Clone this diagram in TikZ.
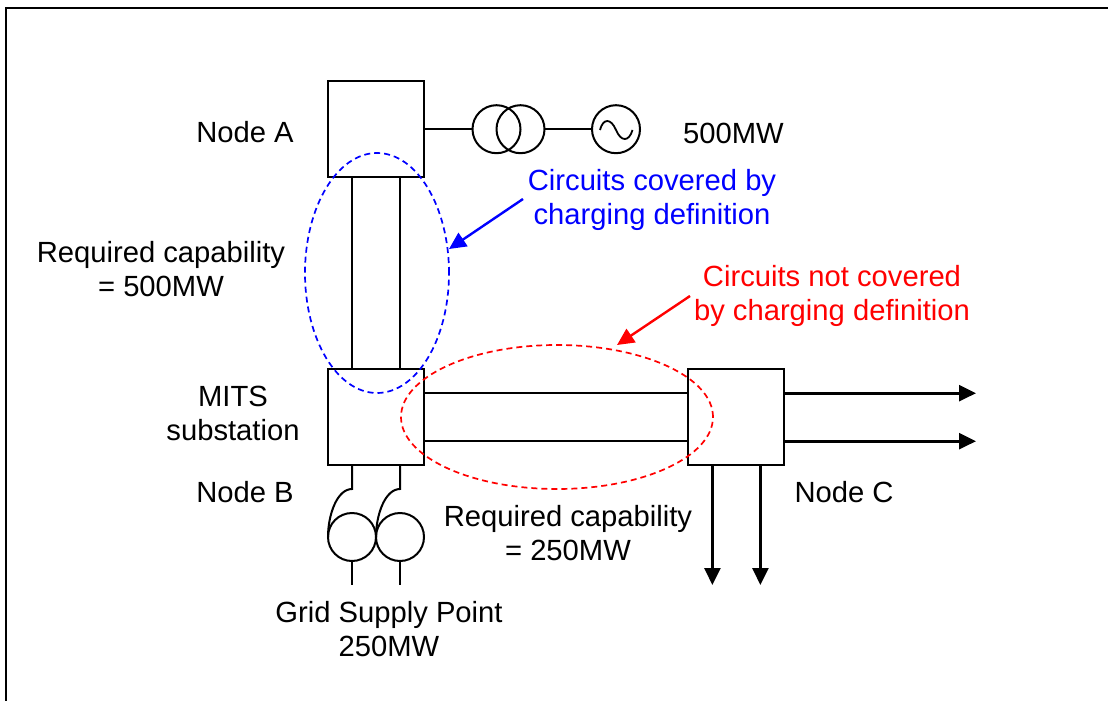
\documentclass[tikz,border=0pt]{standalone}
\usepackage{fontspec}
\setmainfont{Liberation Sans}
\usetikzlibrary{arrows.meta,shapes.geometric}
\definecolor{myblue}{RGB}{0,0,255}
\definecolor{myred}{RGB}{255,0,0}
\tikzset{
  x=1pt,y=-1pt,
  bus/.style={draw,line width=2pt,minimum size=96pt,inner sep=0pt,outer sep=0pt},
  coil/.style={draw,circle,line width=2pt,minimum size=48pt,inner sep=0pt,outer sep=0pt},
  wire/.style={line width=2pt},
  feed/.style={line width=2.6pt,-{Triangle[length=17pt,width=16pt]}},
  lbl/.style={font=\fontsize{29.2}{34}\selectfont,align=center,inner sep=0pt},
  zone/.style={draw,ellipse,line width=1.7pt,dash pattern=on 6pt off 4pt,inner sep=0pt,outer sep=0pt},
  callout/.style={line width=2.4pt,-{Triangle[length=17pt,width=16pt]}},
}
\begin{document}
\begin{tikzpicture}
\useasboundingbox (0,0) rectangle (1108,701);
\draw[line width=2pt] (6,701) -- (6,8.5) -- (1108,8.5);
% buses
\node[bus] (A) at (376,129.2) {};
\node[bus] (B) at (376,417.2) {};
\node[bus] (C) at (736,417.2) {};
% generator side
\node[coil] (T1) at (496.5,129.2) {};
\node[coil] (T2) at (520.5,129.2) {};
\node[coil] (G) at (616,129.2) {};
\draw[wire] (A.east) -- (T1.west);
\draw[wire] (T2.east) -- (G.west);
\draw[line width=1.8pt] (600,130) .. controls (603,118) and (611,118) .. (616,130)
   .. controls (621,142) and (629,142) .. (632.5,130);
% A-B circuits
\coordinate (Aa) at ([xshift=-24pt]A.south);
\coordinate (Ab) at ([xshift=24pt]A.south);
\coordinate (Ba) at ([xshift=-24pt]B.north);
\coordinate (Bb) at ([xshift=24pt]B.north);
\draw[wire] (Aa) -- (Ba);
\draw[wire] (Ab) -- (Bb);
% B-C circuits
\coordinate (Bc) at ([yshift=24pt]B.east);
\coordinate (Bd) at ([yshift=-24pt]B.east);
\coordinate (Cc) at ([yshift=24pt]C.west);
\coordinate (Cd) at ([yshift=-24pt]C.west);
\draw[wire] (Bc) -- (Cc);
\draw[wire] (Bd) -- (Cd);
% outgoing
\coordinate (Ce) at ([yshift=24pt]C.east);
\coordinate (Cf) at ([yshift=-24pt]C.east);
\coordinate (Ex) at (976,393.2);
\coordinate (Fx) at (976,441.2);
\draw[feed] (Ce) -- (Ex);
\draw[feed] (Cf) -- (Fx);
\coordinate (Cg) at ([xshift=-23.6pt]C.south);
\coordinate (Ch) at ([xshift=24.4pt]C.south);
\coordinate (Gx) at (712.4,585);
\coordinate (Hx) at (760.4,585);
\draw[feed] (Cg) -- (Gx);
\draw[feed] (Ch) -- (Hx);
% GSP transformers
\node[coil] (L) at (352,537) {};
\node[coil] (R) at (400,537) {};
\coordinate (Bs) at ([xshift=-24pt]B.south);
\coordinate (Bt) at ([xshift=24pt]B.south);
\draw[wire] (Bs) -- (352,489) .. controls (337,489) and (328,515) .. (L.west);
\draw[wire] (Bt) -- (400,489) .. controls (385,489) and (376,515) .. (R.west);
\coordinate (Ls) at (352,585);
\coordinate (Rs) at (400,585);
\draw[wire] (L.south) -- (Ls);
\draw[wire] (R.south) -- (Rs);
% zones
\node[zone,draw=myblue,minimum width=144pt,minimum height=240pt] (Zb) at (377,273) {};
\node[zone,draw=myred,minimum width=312pt,minimum height=144pt] (Zr) at (557,417) {};
% texts
\node[lbl] (tA) at (245,132.5) {Node A};
\node[lbl] (t500) at (733.5,133) {500MW};
\node[lbl,text=myblue] (tb) at (652,200) {Circuits covered by\\charging definition};
\node[lbl,text=myred] (tr) at (832,296) {Circuits not covered\\by charging definition};
\node[lbl] (tc1) at (161,269) {Required capability\\= 500MW};
\node[lbl] (tm) at (233,413) {MITS\\substation};
\node[lbl] (tB) at (245,492) {Node B};
\node[lbl] (tC) at (844,492) {Node C};
\node[lbl] (tc2) at (568,533) {Required capability\\= 250MW};
\node[lbl] (tg) at (389,629) {Grid Supply Point\\250MW};
% callouts
\coordinate (cb) at (523,199);
\coordinate (cr) at (690,296);
\draw[callout,draw=myblue,fill=myblue] (cb) -- (449,249);
\draw[callout,draw=myred,fill=myred] (cr) -- (617,345);
\end{tikzpicture}
\end{document}
